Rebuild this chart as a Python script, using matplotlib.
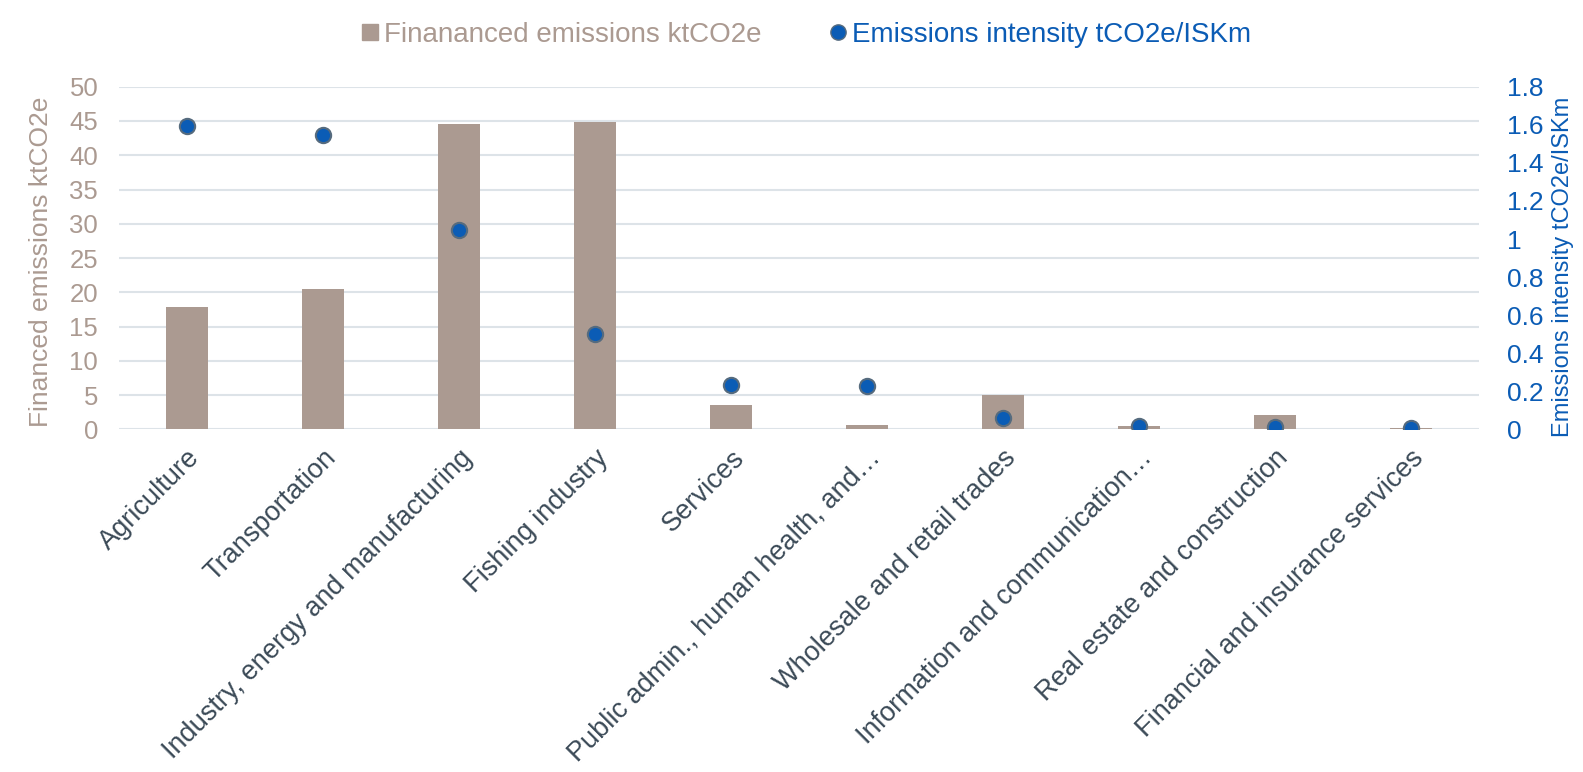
import matplotlib.pyplot as plt
from matplotlib.ticker import FuncFormatter, MultipleLocator
from matplotlib.lines import Line2D

plt.rcParams['font.family'] = ['Liberation Sans', 'DejaVu Sans']

sectors = [
    "Agriculture",
    "Transportation",
    "Industry, energy and manufacturing",
    "Fishing industry",
    "Services",
    "Public admin., human health, and…",
    "Wholesale and retail trades",
    "Information and communication…",
    "Real estate and construction",
    "Financial and insurance services",
]
financed_kt = [17.8, 20.5, 44.5, 44.8, 3.5, 0.6, 5.0, 0.45, 2.05, 0.15]
intensity = [1.595, 1.545, 1.047, 0.50, 0.234, 0.23, 0.062, 0.02, 0.015, 0.01]

BAR = "#ab9a91"
DOT = "#0b5cb5"
DOT_EDGE = "#566b7e"
GRID = "#dde3e8"
XLAB = "#3b4a57"

fig = plt.figure(figsize=(15.83, 7.72), dpi=100)
ax = fig.add_axes([0.0752, 0.4437, 0.8590, 0.4440])
ax2 = ax.twinx()

x = list(range(len(sectors)))
ax.bar(x, financed_kt, width=0.31, color=BAR, zorder=2)
ax2.plot(x, intensity, linestyle="none", marker="o", markersize=11,
         markerfacecolor=DOT, markeredgecolor=DOT_EDGE, markeredgewidth=1.5,
         zorder=3)

ax.set_xlim(-0.5, len(sectors) - 0.5)
ax.set_ylim(0, 50)
ax2.set_ylim(0, 1.8)
ax.yaxis.set_major_locator(MultipleLocator(5))
ax2.yaxis.set_major_locator(MultipleLocator(0.2))
ax2.yaxis.set_major_formatter(FuncFormatter(lambda v, p: "%g" % round(v, 1)))

ax.grid(axis="y", color=GRID, linewidth=1.5, zorder=0)
ax.set_axisbelow(True)
for a in (ax, ax2):
    for s in a.spines.values():
        s.set_visible(False)
    a.tick_params(length=0)

ax.set_xticks(x)
ax.set_xticklabels(sectors, rotation=45, ha="right", rotation_mode="anchor",
                   fontsize=19.5, color=XLAB)
ax.tick_params(axis="x", pad=11)
ax.tick_params(axis="y", labelsize=18.5, labelcolor=BAR, pad=15)
ax2.tick_params(axis="y", labelsize=19, labelcolor=DOT, pad=20)

ax.set_ylabel("Financed emissions ktCO2e", fontsize=19, color=BAR)
ax.yaxis.set_label_coords(-0.0485, 0.488)
ax2.set_ylabel("Emissions intensity tCO2e/ISKm", fontsize=17, color=DOT)
ax2.yaxis.set_label_coords(1.0537, 0.474)

handles = [
    Line2D([], [], linestyle="none", marker="s", markersize=11,
           markerfacecolor=BAR, markeredgecolor=BAR),
    Line2D([], [], linestyle="none", marker="o", markersize=11,
           markerfacecolor=DOT, markeredgecolor=DOT_EDGE),
]
fig.legend(handles, ["Finananced emissions ktCO2e", "Emissions intensity tCO2e/ISKm"],
           loc="center", bbox_to_anchor=(0.509, 0.955), ncol=2, frameon=False,
           fontsize=20, labelcolor=[BAR, DOT], handlelength=0.7,
           handletextpad=0.15, columnspacing=2.4)

fig.savefig("out.png", dpi=100)
